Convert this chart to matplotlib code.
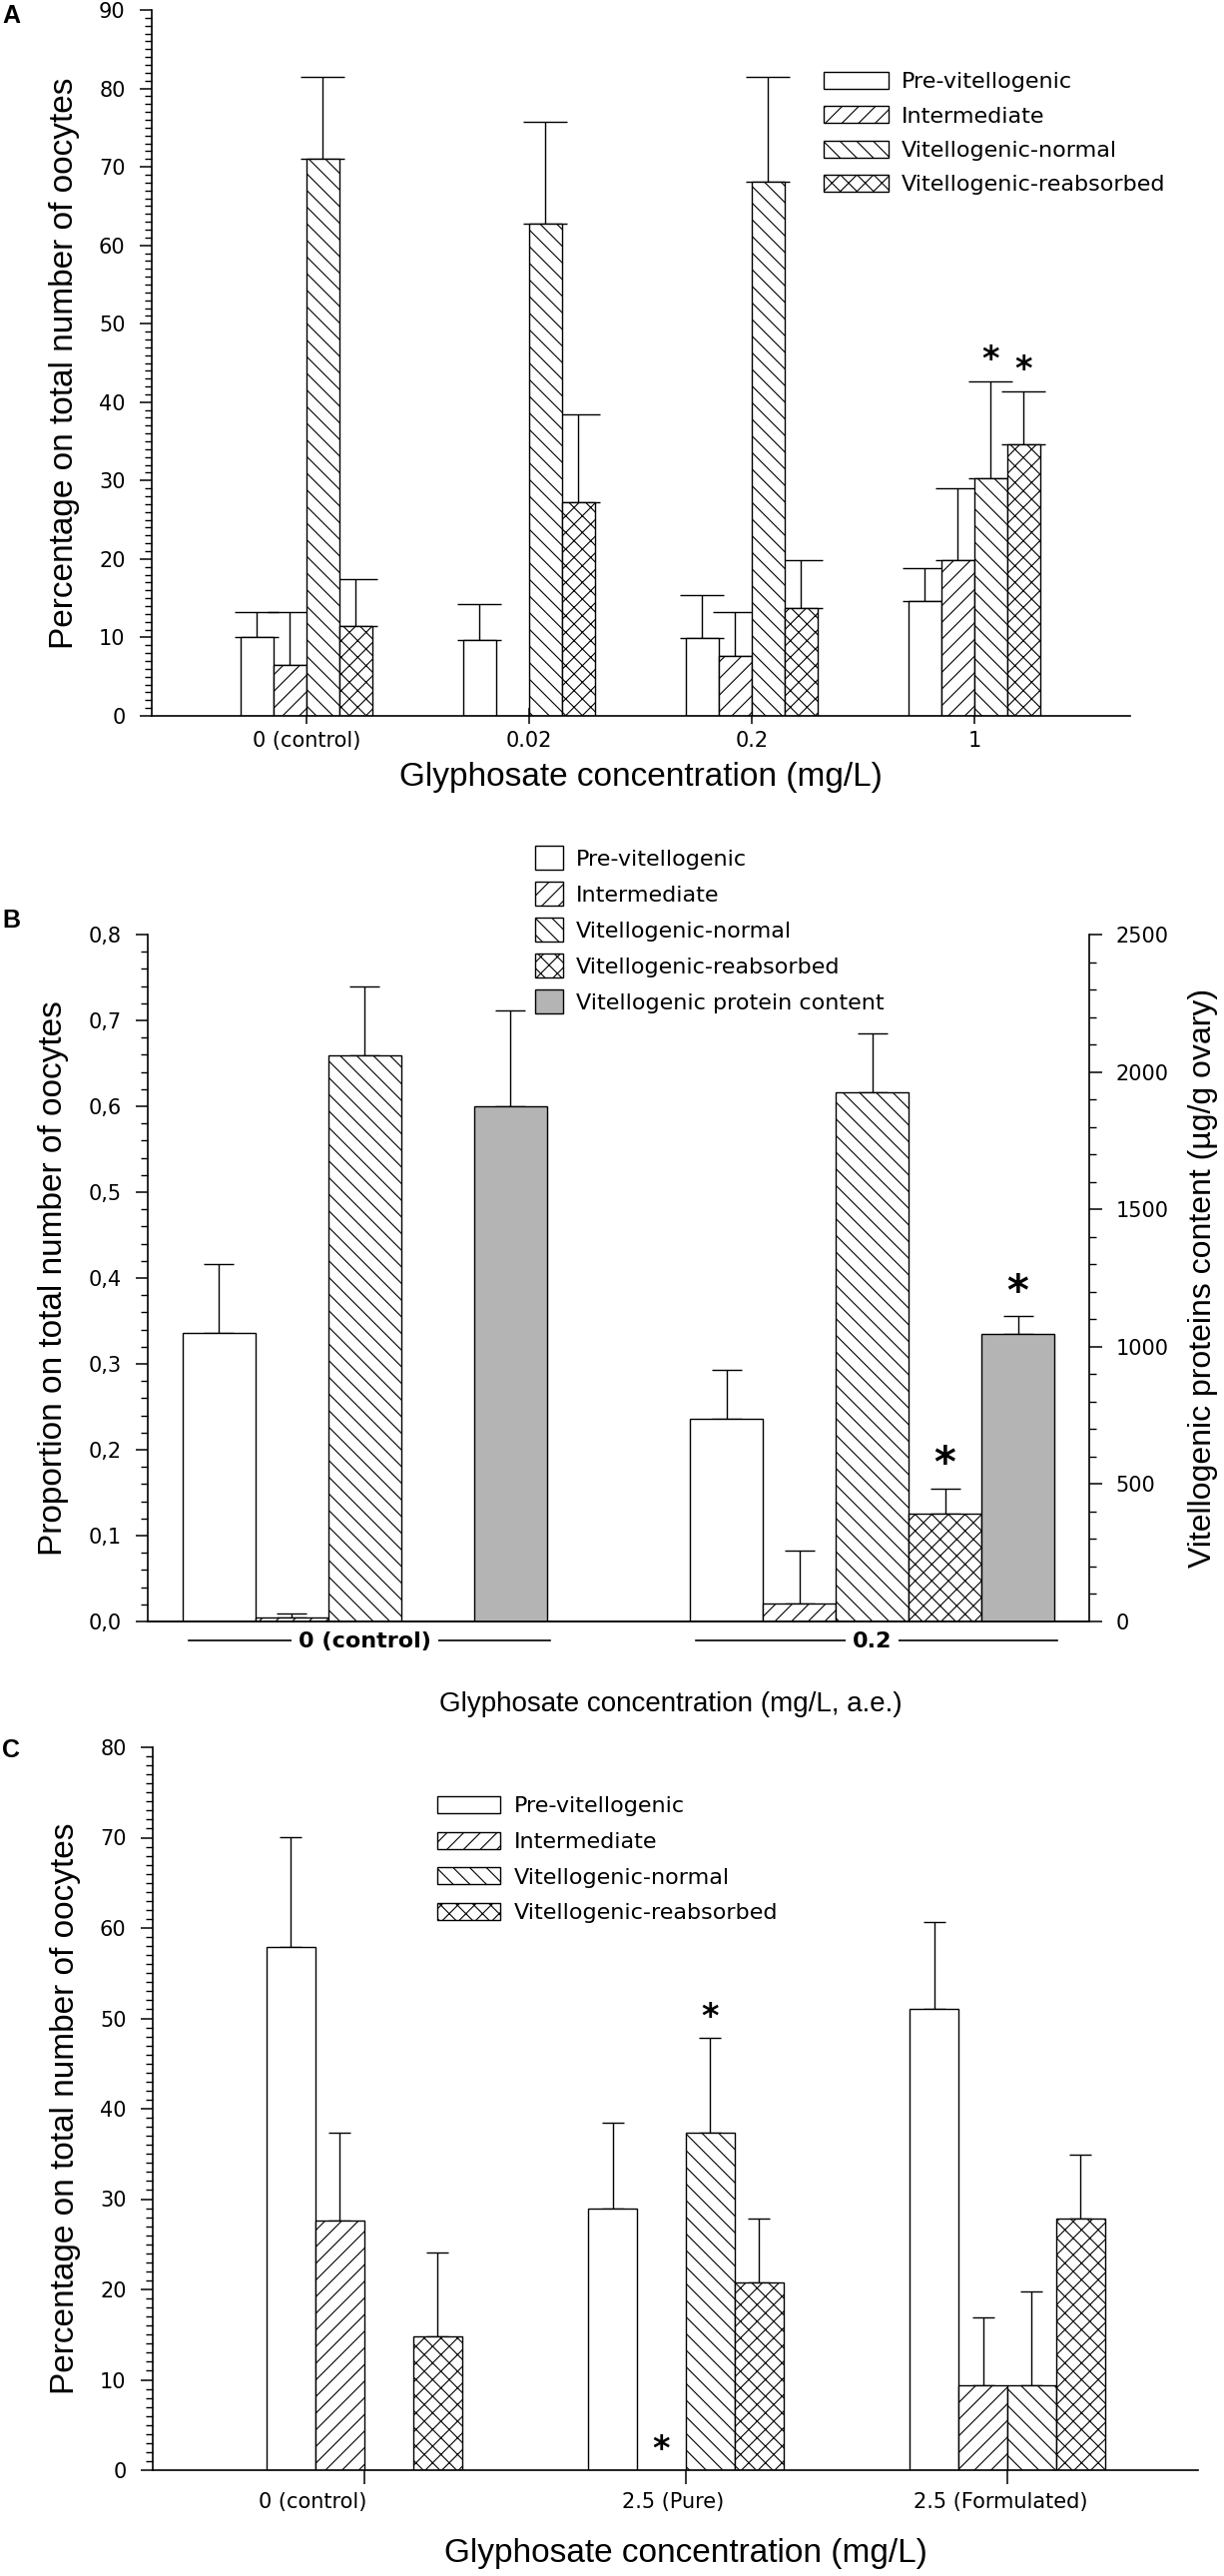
import numpy as np
import matplotlib

matplotlib.use("Agg")
import matplotlib.pyplot as plt
import matplotlib.transforms as mtransforms
from matplotlib.ticker import FuncFormatter, MultipleLocator

# ---- data -------------------------------------------------------------
stages = ["Pre-vitellogenic", "Intermediate", "Vitellogenic-normal", "Vitellogenic-reabsorbed"]
protein_label = "Vitellogenic protein content"

# panel A: percentage of oocytes, mean and upper SE
a_groups = ["0 (control)", "0.02", "0.2", "1"]
a_pre = [10.1, 9.7, 9.9, 14.7]
a_pre_se = [3.2, 4.5, 5.5, 4.1]
a_int = [6.5, 0.0, 7.7, 19.9]
a_int_se = [6.8, np.nan, 5.6, 9.1]
a_vn = [71.0, 62.7, 68.1, 30.3]
a_vn_se = [10.5, 13.1, 13.4, 12.3]
a_vr = [11.5, 27.2, 13.8, 34.6]
a_vr_se = [5.9, 11.3, 6.1, 6.8]
a_stars = [(2, 3), (3, 3)]  # (series index, group index)

# panel B: proportion of oocytes + protein content (right axis)
b_groups = ["0 (control)", "0.2"]
b_pre = [0.336, 0.236]
b_pre_se = [0.080, 0.057]
b_int = [0.005, 0.021]
b_int_se = [0.004, 0.061]
b_vn = [0.659, 0.616]
b_vn_se = [0.080, 0.069]
b_vr = [0.0, 0.126]
b_vr_se = [np.nan, 0.029]
b_protein = [1875, 1045]
b_protein_se = [348, 66]
b_stars = [(3, 1), (4, 1)]

# panel C: percentage of oocytes
c_groups = ["0 (control)", "2.5 (Pure)", "2.5 (Formulated)"]
c_pre = [57.9, 29.0, 51.1]
c_pre_se = [12.2, 9.5, 9.6]
c_int = [27.6, 0.0, 9.4]
c_int_se = [9.7, np.nan, 7.5]
c_vn = [0.0, 37.3, 9.4]
c_vn_se = [np.nan, 10.6, 10.4]
c_vr = [14.8, 20.8, 27.9]
c_vr_se = [9.3, 7.0, 7.0]
c_stars = [(2, 1), (1, 1)]

# ---- style ------------------------------------------------------------
plt.rcParams["font.family"] = ["DejaVu Sans"]
plt.rcParams["hatch.linewidth"] = 0.8
plt.rcParams["hatch.color"] = "black"
LABEL_FONT = "Liberation Sans"
hatches = ["", "//", "\\\\", "xx"]
W, H, DPI = 1226, 2580, 100

fig = plt.figure(figsize=(W / DPI, H / DPI), dpi=DPI)


def px_axes(left, top, right, bottom):
    return fig.add_axes([left / W, 1 - bottom / H, (right - left) / W, (bottom - top) / H])


def draw_series(ax, centers, slot, width, values, errs, hatch, face, label, capsize):
    x = np.arange(len(centers)) + slot * width
    v = np.asarray(values, float)
    e = np.asarray(errs, float)
    ax.bar(x, v, width, color=face, edgecolor="black", hatch=hatch,
           linewidth=1.0, label=label, zorder=2)
    ok = ~np.isnan(e)
    ax.errorbar(x[ok], v[ok], yerr=[np.zeros(ok.sum()), e[ok]], fmt="none",
                ecolor="black", elinewidth=1.0, capsize=capsize, capthick=1.0, zorder=1)
    return x, v, np.nan_to_num(e)


def add_stars(ax, tops, stars, size, gap=23):
    for s, g in stars:
        x, y = tops[s][0][g], tops[s][1][g] + tops[s][2][g]
        ax.annotate("*", (x, y), xytext=(0, gap - 0.59 * size), textcoords="offset points",
                    ha="center", va="baseline", fontsize=size, fontweight="bold",
                    annotation_clip=False)


def style_y(ax, major, minor, side="left"):
    ax.yaxis.set_major_locator(MultipleLocator(major))
    ax.yaxis.set_minor_locator(MultipleLocator(minor))
    ax.tick_params(axis="y", which="major", direction="out", length=9, width=1.1,
                   labelsize=15, pad=10)
    ax.tick_params(axis="y", which="minor", direction="out", length=5, width=1.0)
    for s in ax.spines.values():
        s.set_linewidth(1.2)
    ax.spines["top"].set_visible(False)
    if side == "left":
        ax.spines["right"].set_visible(False)


def legend(ax, handles, labels, anchor, hl, hh, spacing):
    ax.legend(handles, labels, loc="upper left", bbox_to_anchor=anchor, frameon=False,
              fontsize=16, handlelength=hl, handleheight=hh, handletextpad=0.6,
              labelspacing=spacing, borderpad=0, borderaxespad=0)


# ---- panel A ------------------------------------------------------------
ax_a = px_axes(152, 10, 1132, 717)
wa = 0.148
a_vals = [(a_pre, a_pre_se), (a_int, a_int_se), (a_vn, a_vn_se), (a_vr, a_vr_se)]
a_tops = []
for i, (vals, se) in enumerate(a_vals):
    a_tops.append(draw_series(ax_a, a_groups, i - 1.5, wa, vals, se, hatches[i],
                              "white", stages[i], 16))
add_stars(ax_a, a_tops, a_stars, 24)
ax_a.set_xlim(-0.695, 3.70)
ax_a.set_ylim(0, 90)
style_y(ax_a, 10, 1)
ax_a.set_xticks(range(len(a_groups)), a_groups)
ax_a.tick_params(axis="x", direction="inout", length=12, width=1.1, labelsize=15, pad=5)
ax_a.set_ylabel("Percentage on total number of oocytes", fontsize=24,
                fontfamily=LABEL_FONT, labelpad=14)
ax_a.set_xlabel("Glyphosate concentration (mg/L)", fontsize=24,
                fontfamily=LABEL_FONT, labelpad=8)
h, l = ax_a.get_legend_handles_labels()
legend(ax_a, h, l, (0.687, 0.912), 2.9, 0.8, 0.63)

# ---- panel B ------------------------------------------------------------
ax_b = px_axes(148, 936, 1091, 1624)
ax_b2 = ax_b.twinx()
wb = 0.1437
b_vals = [(b_pre, b_pre_se), (b_int, b_int_se), (b_vn, b_vn_se), (b_vr, b_vr_se)]
b_tops = []
for i, (vals, se) in enumerate(b_vals):
    b_tops.append(draw_series(ax_b, b_groups, i - 2, wb, vals, se, hatches[i],
                              "white", stages[i], 11))
xp, vp, ep = draw_series(ax_b2, b_groups, 2, wb, b_protein, b_protein_se, "",
                         "#b4b4b4", protein_label, 11)
b_tops.append((xp, np.asarray(vp) * 0.8 / 2500, np.asarray(ep) * 0.8 / 2500))
add_stars(ax_b, b_tops, b_stars, 30, gap=26)
ax_b.set_xlim(-0.428, 1.428)
ax_b.set_ylim(0, 0.8)
ax_b2.set_ylim(0, 2500)
style_y(ax_b, 0.1, 0.02)
ax_b.yaxis.set_major_formatter(FuncFormatter(lambda v, p: f"{v:.1f}".replace(".", ",")))
style_y(ax_b2, 500, 100, side="right")
ax_b2.spines["left"].set_visible(False)
ax_b.spines["right"].set_visible(False)
ax_b.set_xticks([])
ax_b.set_ylabel("Proportion on total number of oocytes", fontsize=24,
                fontfamily=LABEL_FONT, labelpad=14)
ax_b2.set_ylabel("Vitellogenic proteins content (\u00b5g/g ovary)", fontsize=23,
                 fontfamily=LABEL_FONT, rotation=90, labelpad=14)
ax_b.set_xlabel("Glyphosate concentration (mg/L, a.e.)", fontsize=20,
                fontfamily=LABEL_FONT)
ax_b.xaxis.set_label_coords(0.555, -0.102)
trans_b = mtransforms.blended_transform_factory(ax_b.transData, ax_b.transAxes)
for g, name in enumerate(b_groups):
    ax_b.plot([g - 0.347, g + 0.365], [-0.027, -0.027], color="black", lw=1.2,
              transform=trans_b, clip_on=False)
    ax_b.text(g, -0.029, name, transform=trans_b, ha="center", va="center", fontsize=16,
              fontweight="bold", clip_on=False,
              bbox=dict(facecolor="white", edgecolor="none", pad=5))
h1, l1 = ax_b.get_legend_handles_labels()
h2, l2 = ax_b2.get_legend_handles_labels()
legend(ax_b2, h1 + h2, l1 + l2, (0.411, 1.129), 1.27, 1.27, 0.55)

# ---- panel C ------------------------------------------------------------
ax_c = px_axes(153, 1750, 1200, 2474)
wc = 0.152
c_vals = [(c_pre, c_pre_se), (c_int, c_int_se), (c_vn, c_vn_se), (c_vr, c_vr_se)]
c_tops = []
for i, (vals, se) in enumerate(c_vals):
    c_tops.append(draw_series(ax_c, c_groups, i - 1.5, wc, vals, se, hatches[i],
                              "white", stages[i], 8))
add_stars(ax_c, c_tops, c_stars, 24, gap=22)
ax_c.set_xlim(-0.658, 2.593)
ax_c.set_ylim(0, 80)
style_y(ax_c, 10, 1)
label_shift = [-0.16, -0.04, -0.02]
ax_c.set_xticks(range(len(c_groups)))
ax_c.set_xticklabels([])
ax_c.set_xticks(np.arange(len(c_groups)) + label_shift, c_groups, minor=True)
ax_c.tick_params(axis="x", which="major", direction="out", length=10, width=1.1)
ax_c.tick_params(axis="x", which="minor", length=0, labelsize=15, pad=16)
ax_c.set_ylabel("Percentage on total number of oocytes", fontsize=24,
                fontfamily=LABEL_FONT, labelpad=14)
ax_c.set_xlabel("Glyphosate concentration (mg/L)", fontsize=24,
                fontfamily=LABEL_FONT)
ax_c.xaxis.set_label_coords(0.51, -0.094)
h, l = ax_c.get_legend_handles_labels()
legend(ax_c, h, l, (0.272, 0.932), 2.85, 0.8, 0.69)

# ---- panel letters ------------------------------------------------------
for letter, y in [("A", 16), ("B", 922), ("C", 1753)]:
    fig.text(11 / W, 1 - y / H, letter, ha="center", va="center", fontsize=18,
             fontweight="bold", fontfamily=LABEL_FONT)

fig.savefig("out.png", dpi=DPI)
